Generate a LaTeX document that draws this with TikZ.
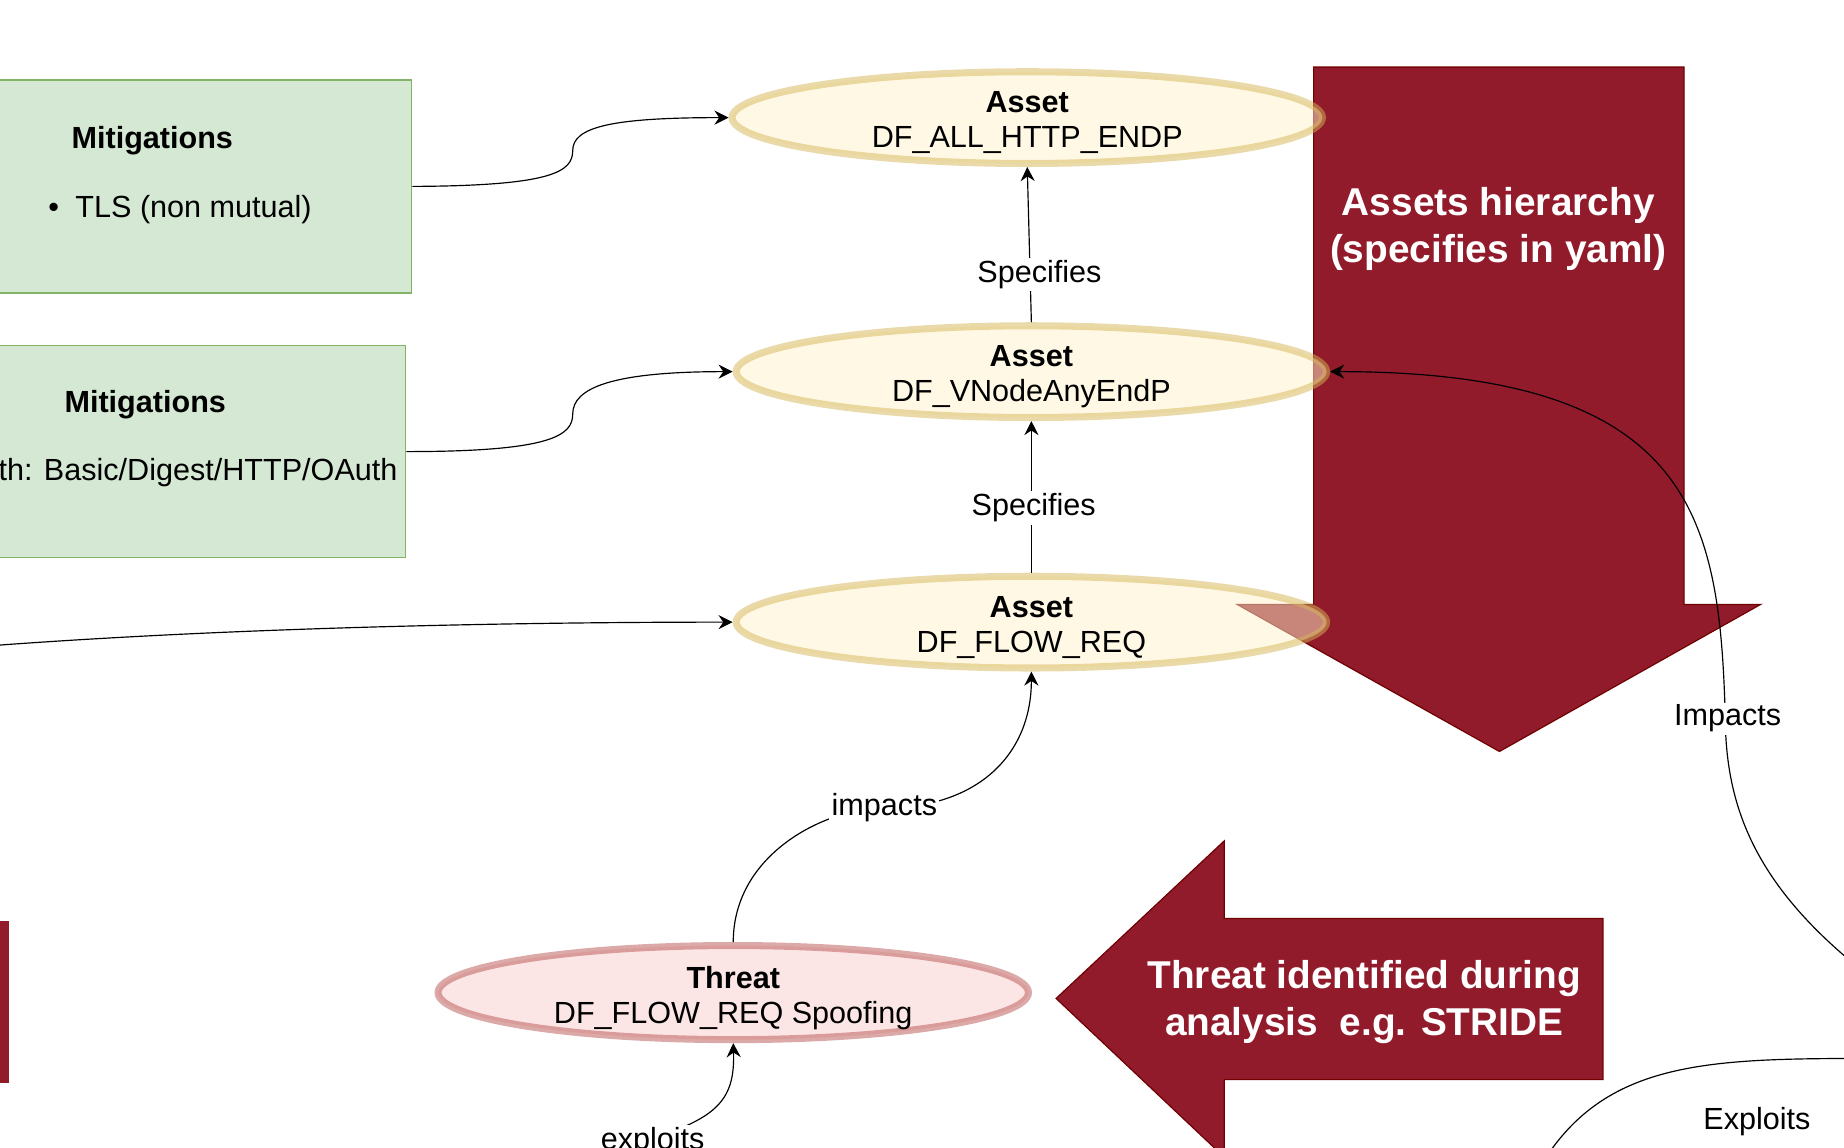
\documentclass[tikz,border=0pt]{standalone}
\usepackage{fontspec}
\setmainfont{Liberation Sans}
\usetikzlibrary{shapes.geometric,arrows.meta}

\definecolor{mitfill}{HTML}{D5E8D4}
\definecolor{mitline}{HTML}{82B366}
\definecolor{assetfill}{HTML}{FFF2CC}
\definecolor{assetline}{HTML}{D6B656}
\definecolor{threatfill}{HTML}{F8CECC}
\definecolor{threatline}{HTML}{B85450}
\definecolor{arrowred}{HTML}{911B2B}
\definecolor{arrowedge}{HTML}{6F0000}

\tikzset{
  asset/.style={ellipse, draw=assetline, fill=assetfill, line width=3pt, draw opacity=0.5, fill opacity=0.5, minimum width=251pt, minimum height=39pt, inner sep=0pt},
  threat/.style={asset, draw=threatline, fill=threatfill, minimum height=40pt},
  ovaltext/.style={align=center, inner sep=0pt, yshift=-2.2pt},
  mitbox/.style={draw=mitline, fill=mitfill, line width=0.6pt, minimum width=220pt, minimum height=90.5pt, inner sep=0pt},
  mittitle/.style={font=\fontsize{13}{15}\selectfont\bfseries},
  lbl/.style={fill=white, inner sep=1pt},
  conn/.style={-{Stealth[length=6pt,width=6pt,inset=2pt]}, line width=0.5pt},
  bigarrow/.style={fill=arrowred, draw=arrowedge, line width=0.5pt},
  arrowtext/.style={text=white, font=\fontsize{16.5}{20}\selectfont\bfseries, align=center}
}

\begin{document}
\begin{tikzpicture}[x=0.5pt, y=-0.5pt, font=\fontsize{13}{15}\selectfont]

\useasboundingbox (0,0) rectangle (1568,976);
\clip (0,0) rectangle (1568,976);

% Big arrows
\draw[bigarrow] (1117,57) -- (1432,57) -- (1432,514) -- (1497,514) -- (1275,639) -- (1052,514) -- (1117,514) -- cycle;
\node[arrowtext] (hier) at (1274,195) {Assets hierarchy\\(specifies in yaml)};
\draw[bigarrow] (1363,781) -- (1041,781) -- (1041,715) -- (898,849) -- (1041,984) -- (1041,918) -- (1363,918) -- cycle;
\node[arrowtext] (ident) at (1160,852) {Threat identified during\\analysis\ \ e.g. STRIDE};
\fill[arrowred] (-30,783) rectangle (7.5,921);

% Mitigation boxes
\node[mitbox] (mit1) at (130,158.5) {};
\node[mittitle] (mit1t) at (129.5,120) {Mitigations};
\node[anchor=west] (tls) at (34,178) {\textbullet\hspace{7pt}TLS (non mutual)};
\node[mitbox, minimum width=221.5pt, minimum height=90pt] (mit2) at (123.5,384) {};
\node[mittitle] (mit2t) at (123.5,344) {Mitigations};
\node[anchor=east] (auth) at (345,402) {th: Basic/Digest/HTTP/OAuth};

% Assets and threat
\node[asset] (a1) at (873.5,100) {};
\node[ovaltext] (a1t) at (a1.center) {\textbf{Asset}\\DF\_ALL\_HTTP\_ENDP};
\node[asset] (a2) at (877,316) {};
\node[ovaltext] (a2t) at (a2.center) {\textbf{Asset}\\DF\_VNodeAnyEndP};
\node[asset] (a3) at (877,529) {};
\node[ovaltext] (a3t) at (a3.center) {\textbf{Asset}\\DF\_FLOW\_REQ};
\node[threat] (thr) at (623.5,844) {};
\node[ovaltext] (thrt) at (thr.center) {\textbf{Threat}\\DF\_FLOW\_REQ Spoofing};

% Free ends
\coordinate (lsrc) at (-20,550);
\coordinate (rsrc) at (1600,838);
\coordinate (esrc) at (1305,1000);
\coordinate (edst) at (1600,900);

% Connectors
\draw[conn] (mit1.east) .. controls (470,158) and (487,146) .. (487,128) .. controls (487,108) and (520,100) .. (a1.west);
\draw[conn] (mit2.east) .. controls (470,384) and (487,370) .. (487,352) .. controls (487,330) and (520,316) .. (a2.west);
\draw[conn] (lsrc) .. controls (200,533) and (450,529) .. (a3.west);
\draw[conn] (a2.north) -- node[lbl, pos=0.33, xshift=4pt, yshift=-1.5pt] (spec1) {Specifies} (a1.south);
\draw[conn] (a3.north) -- node[lbl, pos=0.45, xshift=1pt, yshift=-1.5pt] (spec2) {Specifies} (a2.south);
\draw[conn] (thr.north) .. controls +(0,-75) and +(-50,0) .. (752,687) .. controls +(80,0) and +(0,70) .. (a3.south);
\node[lbl] (impl) at (752,687) {impacts};
\draw[conn] (555,968) .. controls (610,950) and (625,935) .. (thr.south);
\node[lbl] (expl) at (555,971) {exploits};
\draw[conn] (rsrc) .. controls (1495,760) and (1467,690) .. (1467,608) .. controls (1462,440) and (1440,316) .. (a2.east);
\node[lbl] (impr) at (1469,611) {Impacts};
\draw[line width=0.5pt] (esrc) .. controls (1360,900) and (1450,900) .. (edst);
\node (explr) at (1494,954) {Exploits};

\end{tikzpicture}
\end{document}
